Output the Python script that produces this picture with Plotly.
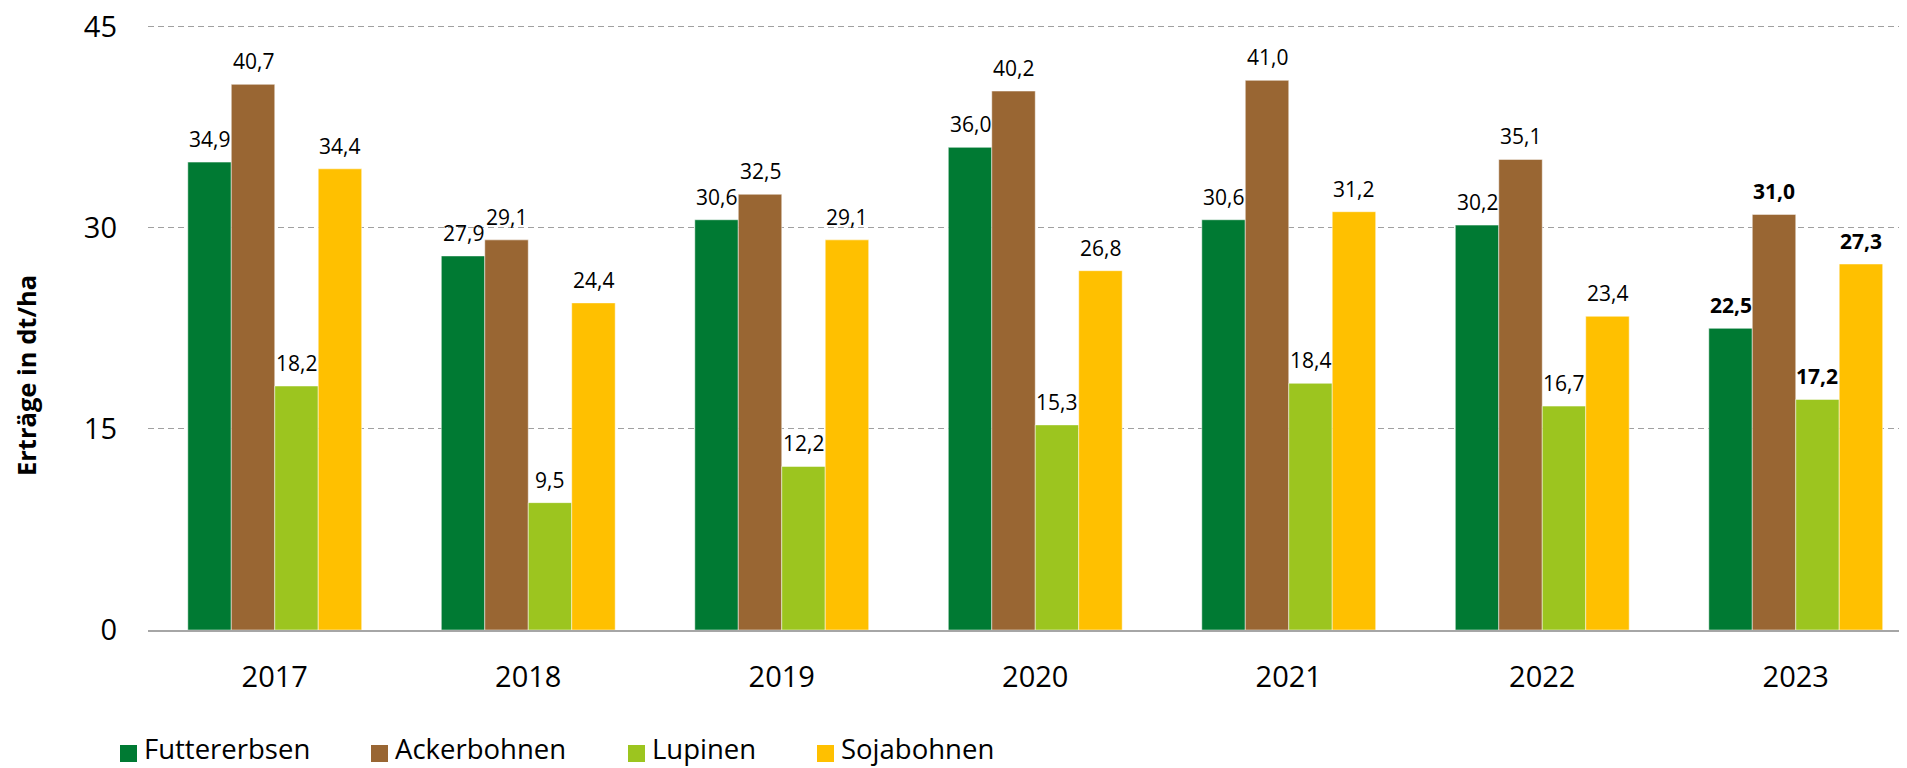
import plotly.graph_objects as go

# ---- data ----
years = ["2017", "2018", "2019", "2020", "2021", "2022", "2023"]
series_names = ["Futtererbsen", "Ackerbohnen", "Lupinen", "Sojabohnen"]
futtererbsen = [34.9, 27.9, 30.6, 36.0, 30.6, 30.2, 22.5]
ackerbohnen = [40.7, 29.1, 32.5, 40.2, 41.0, 35.1, 31.0]
lupinen = [18.2, 9.5, 12.2, 15.3, 18.4, 16.7, 17.2]
sojabohnen = [34.4, 24.4, 29.1, 26.8, 31.2, 23.4, 27.3]
y_ticks = [0, 15, 30, 45]
bold_year = "2023"

series_values = [futtererbsen, ackerbohnen, lupinen, sojabohnen]
colors = ["#007A33", "#996633", "#9CC51F", "#FFC000"]

FONT = "Open Sans"
OFF = 8  # page body margin
W, H = 1907 - OFF, 768 - OFF
ML, MR, MT = 148 - OFF, 4, 17
ZERO_Y = 630 - OFF           # pixel row of value 0 in figure coords
MB = H - ZERO_Y
PW = W - ML - MR
PH = ZERO_Y - MT
PX_PER_UNIT = (630 - 26.7) / 45.0
Y_MAX = PH / PX_PER_UNIT
CAT_PX = 253.5
BARGAP = 0.314


def ref_x(px):
    """reference-screen px -> paper x"""
    return (px - OFF - ML) / PW


def ref_y(py):
    """reference-screen px -> paper y"""
    return (ZERO_Y - (py - OFF)) / PH


fig = go.Figure()
for name, vals, col in zip(series_names, series_values, colors):
    fig.add_trace(go.Bar(
        name=name, x=years, y=vals,
        marker=dict(color=col, line=dict(color="rgba(255,255,255,0.7)", width=0.7)),
        showlegend=False,
        hovertemplate="%{x}: %{y:.1f}<extra>" + name + "</extra>",
    ))

# data labels
n = len(series_names)
bw = (1 - BARGAP) / n
annotations = []
for j, vals in enumerate(series_values):
    for i, (yr, v) in enumerate(zip(years, vals)):
        label = f"{v:.1f}".replace(".", ",")
        if yr == bold_year:
            label = f"<b>{label}</b>"
        annotations.append(dict(
            x=i + (j - (n - 1) / 2) * bw, y=v, xref="x", yref="y",
            text=label, showarrow=False, yanchor="bottom", xanchor="center",
            yshift=7, font=dict(family=FONT, size=21, color="#000000"),
        ))

# y axis title
annotations.append(dict(
    x=ref_x(26), y=ref_y(376), xref="paper", yref="paper",
    text="<b>Erträge in dt/ha</b>", textangle=-90, showarrow=False,
    xanchor="center", yanchor="middle", borderpad=0,
    font=dict(family=FONT, size=25.5, color="#000000"),
))

# manual legend
legend_sq_x = [120, 371, 628, 817]
shapes = []
for name, col, sx in zip(series_names, colors, legend_sq_x):
    shapes.append(dict(
        type="rect", xref="paper", yref="paper",
        x0=ref_x(sx), x1=ref_x(sx + 17),
        y0=ref_y(762), y1=ref_y(745),
        fillcolor=col, line=dict(width=0),
    ))
    annotations.append(dict(
        x=ref_x(sx + 23), y=ref_y(768), xref="paper", yref="paper",
        text=name, showarrow=False, xanchor="left", yanchor="bottom",
        borderpad=0,
        font=dict(family=FONT, size=27.5, color="#000000"),
    ))

span = PW / CAT_PX
fig.update_layout(
    width=W, height=H, autosize=False,
    margin=dict(l=ML, r=MR, t=MT, b=MB, pad=0, autoexpand=False),
    paper_bgcolor="white", plot_bgcolor="white",
    barmode="group", bargap=BARGAP, bargroupgap=0,
    font=dict(family=FONT, color="#000000"),
    showlegend=False,
    annotations=annotations, shapes=shapes,
    xaxis=dict(
        type="category", categoryorder="array", categoryarray=years,
        range=[-0.5, -0.5 + span], automargin=False,
        showline=True, linecolor="#A6A6A6", linewidth=2,
        showgrid=False, ticks="", ticklabelstandoff=20,
        tickfont=dict(family=FONT, size=29, color="#000000"),
    ),
    yaxis=dict(
        range=[0, Y_MAX], tickvals=y_ticks, ticktext=[str(t) for t in y_ticks],
        automargin=False,
        showgrid=True, gridcolor="#A0A0A0", gridwidth=1, griddash="6px,4px",
        zeroline=False, showline=False, ticks="", ticklabelstandoff=30,
        ticklabeloverflow="allow",
        tickfont=dict(family=FONT, size=29, color="#000000"),
    ),
)

fig.write_html("out.html")
